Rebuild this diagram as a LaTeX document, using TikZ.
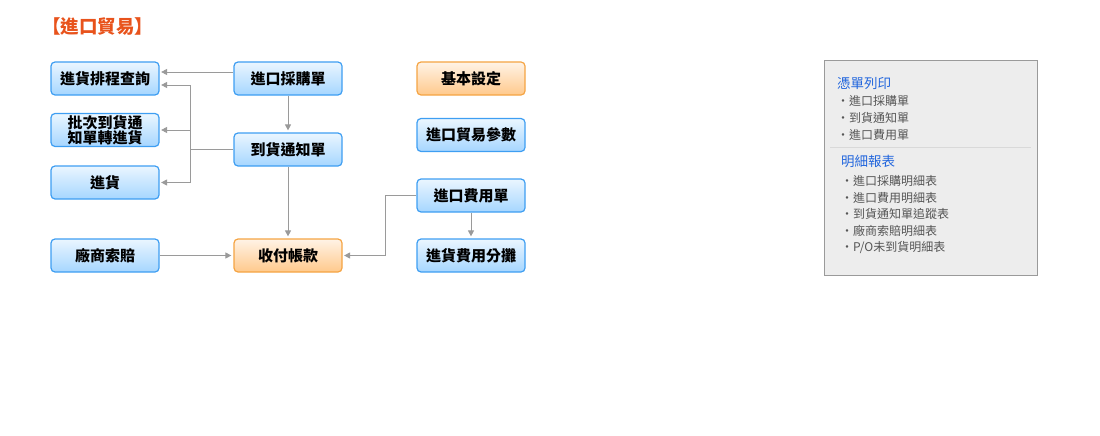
\documentclass[tikz,border=0pt]{standalone}
\usepackage{fontspec}
\setmainfont{Noto Sans CJK TC}
\usetikzlibrary{arrows.meta}

\definecolor{boxline}{HTML}{3E9EF2}
\definecolor{boxtop}{HTML}{EAF6FF}
\definecolor{boxbot}{HTML}{A6D6FF}
\definecolor{hotline}{HTML}{F5A443}
\definecolor{hottop}{HTML}{FFF3E6}
\definecolor{hotbot}{HTML}{FFC98C}
\definecolor{wire}{HTML}{9A9A9A}
\definecolor{titlered}{HTML}{E8531C}
\definecolor{menublue}{HTML}{2266DD}
\definecolor{menugrey}{HTML}{555555}

\tikzset{
  module/.style={draw=boxline, line width=1.2pt, rounded corners=4pt,
    top color=boxtop, bottom color=boxbot, minimum width=108pt,
    minimum height=33pt, inner sep=0pt, align=center,
    font=\fontsize{15}{15}\selectfont\bfseries},
  hotmodule/.style={module, draw=hotline, top color=hottop, bottom color=hotbot},
  link/.style={draw=wire, line width=0.9pt},
  flow/.style={link, -{Triangle[length=6pt,width=6pt]}},
  menuhead/.style={anchor=west, inner sep=0pt, text=menublue,
    font=\fontsize{13.5}{14}\selectfont},
  menuitem/.style={anchor=west, inner sep=0pt, text=menugrey,
    font=\fontsize{12}{13}\selectfont}
}

\begin{document}
\begin{tikzpicture}[x=1pt,y=-1pt]
    \useasboundingbox (0,0) rectangle (1100,436);
    % Title
    \node[anchor=west, inner sep=0pt, text=titlered,
      font=\fontsize{18.5}{19}\selectfont\bfseries] (title) at (42,27) {【進口貿易】};
    % Left column
    \node[module] (sched) at (105,78.5) {進貨排程查詢};
    \node[module] (batch) at (105,130) {批次到貨通\\知單轉進貨};
    \node[module] (recv) at (105,182.5) {進貨};
    \node[module] (claim) at (105,255.5) {廠商索賠};
    % Middle column
    \node[module] (po) at (288,78.5) {進口採購單};
    \node[module] (notice) at (288,149.5) {到貨通知單};
    \node[hotmodule] (pay) at (288,255.5) {收付帳款};
    % Right column
    \node[hotmodule] (basic) at (471,78.5) {基本設定};
    \node[module] (param) at (471,135) {進口貿易參數};
    \node[module] (fee) at (471,195.5) {進口費用單};
    \node[module] (alloc) at (471,255.5) {進貨費用分攤};
    % Connectors
    \coordinate (bustop) at (190,85);
    \draw[flow] ([yshift=6.5pt]po.west) -- ([yshift=6.5pt,xshift=1.5pt]sched.east);
    \draw[link] (notice.west) -- (notice.west -| bustop);
    \draw[link] (bustop) -- (bustop |- recv.east);
    \draw[flow] (bustop) -- ([yshift=-6.5pt,xshift=1.5pt]sched.east);
    \draw[flow] (bustop |- batch.east) -- ([xshift=1.5pt]batch.east);
    \draw[flow] (bustop |- recv.east) -- ([xshift=1.5pt]recv.east);
    \draw[flow] (po.south) -- ([yshift=2pt]notice.north);
    \draw[flow] (notice.south) -- ([yshift=2pt]pay.north);
    \draw[flow] (claim.east) -- ([xshift=-2pt]pay.west);
    \draw[flow] (fee.west) -- ++(-31,0) |- ([xshift=1.5pt]pay.east);
    \draw[flow] (fee.south) -- ([yshift=2pt]alloc.north);
    % Menu panel
    \draw[draw=wire, fill=black!7, line width=0.9pt] (824,60.5) rectangle (1037,275);
    \draw[draw=black!15, line width=0.8pt] (830,147.5) -- (1031,147.5);
    \node[menuhead] (print) at (837,83.5) {憑單列印};
    \node[menuitem] (p1) at (837,100.5) {・進口採購單};
    \node[menuitem] (p2) at (837,117.5) {・到貨通知單};
    \node[menuitem] (p3) at (837,134.5) {・進口費用單};
    \node[menuhead] (report) at (841,161) {明細報表};
    \node[menuitem] (r1) at (841,180.5) {・進口採購明細表};
    \node[menuitem] (r2) at (841,197.5) {・進口費用明細表};
    \node[menuitem] (r3) at (841,214) {・到貨通知單追蹤表};
    \node[menuitem] (r4) at (841,231) {・廠商索賠明細表};
    \node[menuitem] (r5) at (841,247.5) {・P/O未到貨明細表};
\end{tikzpicture}
\end{document}
